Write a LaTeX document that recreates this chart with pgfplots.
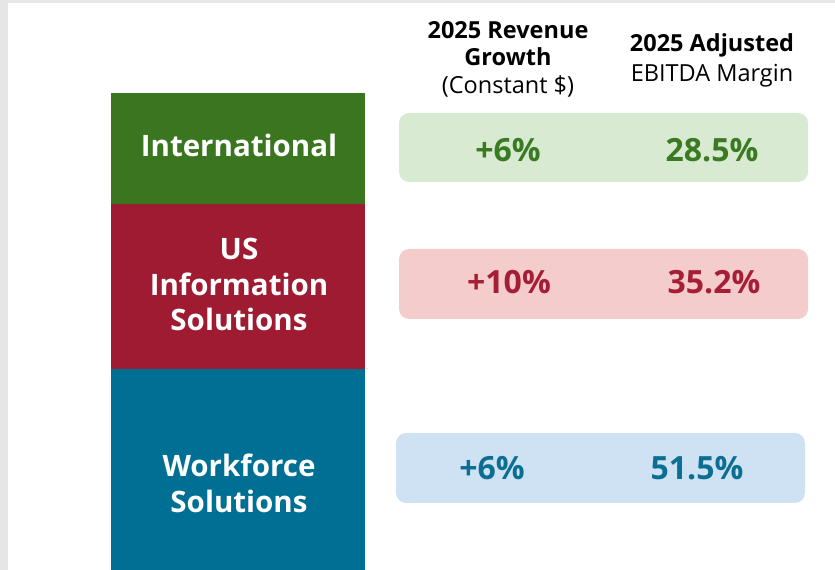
\documentclass[border=0pt]{standalone}
\usepackage{pgfplots}
\pgfplotsset{compat=1.18}
\usepackage{fontspec}
\setmainfont{Open Sans}
\definecolor{barG}{HTML}{3A761F}
\definecolor{barR}{HTML}{9E1B32}
\definecolor{barB}{HTML}{006F94}
\definecolor{boxG}{HTML}{D9EAD3}
\definecolor{boxR}{HTML}{F4CCCC}
\definecolor{boxB}{HTML}{CFE2F3}
\definecolor{txtG}{HTML}{3A7A22}
\definecolor{txtR}{HTML}{A51E36}
\definecolor{txtB}{HTML}{0B6E92}
\definecolor{edge}{HTML}{E6E6E6}
\begin{document}
\begin{tikzpicture}
\begin{axis}[
  scale only axis, width=835pt, height=570pt,
  xmin=0, xmax=835, ymin=0, ymax=570,
  axis lines=none, xtick=\empty, ytick=\empty,
  ybar stacked, bar width=254,
  clip=true,
]
% stacked bar (segment heights in px)
\addplot[fill=barB, draw=none] coordinates {(238,201)};
\addplot[fill=barR, draw=none] coordinates {(238,165)};
\addplot[fill=barG, draw=none] coordinates {(238,111)};
\end{axis}
\begin{axis}[
  scale only axis, width=835pt, height=570pt,
  xmin=0, xmax=835, ymin=0, ymax=570,
  axis lines=none, xtick=\empty, ytick=\empty,
  clip=false,
]
% gray frame strips
\fill[edge] (axis cs:0,567) rectangle (axis cs:835,570);
\fill[edge] (axis cs:0,0) rectangle (axis cs:8,570);
% rounded boxes
\fill[boxG, rounded corners=10pt] (axis cs:399,388) rectangle (axis cs:808,457);
\fill[boxR, rounded corners=10pt] (axis cs:399,251) rectangle (axis cs:808,321);
\fill[boxB, rounded corners=10pt] (axis cs:396,67) rectangle (axis cs:805,137);
% bar labels
\begin{scope}[every node/.style={anchor=base, text=white, font=\fontsize{29.5}{34}\selectfont\bfseries, inner sep=0pt}]
\node at (axis cs:239,413) {International};
\node at (axis cs:239,310) {US};
\node at (axis cs:239,274) {Information};
\node at (axis cs:239,239) {Solutions};
\node at (axis cs:239,93) {Workforce};
\node at (axis cs:239,57) {Solutions};
\end{scope}
% headers
\begin{scope}[every node/.style={anchor=base, text=black, inner sep=0pt}]
\node[font=\fontsize{23.5}{26}\selectfont\bfseries] at (axis cs:508,531) {2025 Revenue};
\node[font=\fontsize{23.5}{26}\selectfont\bfseries] at (axis cs:508,504) {Growth};
\node[font=\fontsize{23.5}{26}\selectfont] at (axis cs:508,476) {(Constant \$)};
\node[font=\fontsize{23.5}{26}\selectfont\bfseries] at (axis cs:712,518) {2025 Adjusted};
\node[font=\fontsize{23.5}{26}\selectfont] at (axis cs:712,488) {EBITDA Margin};
\end{scope}
% values
\begin{scope}[every node/.style={anchor=base, inner sep=0pt, font=\fontsize{32}{36}\selectfont\bfseries}]
\node[text=txtG] at (axis cs:508,408) {+6\%};
\node[text=txtG] at (axis cs:712,408) {28.5\%};
\node[text=txtR] at (axis cs:509,276) {+10\%};
\node[text=txtR] at (axis cs:714,276) {35.2\%};
\node[text=txtB] at (axis cs:492,90) {+6\%};
\node[text=txtB] at (axis cs:697,90) {51.5\%};
\end{scope}
\end{axis}
\end{tikzpicture}
\end{document}
